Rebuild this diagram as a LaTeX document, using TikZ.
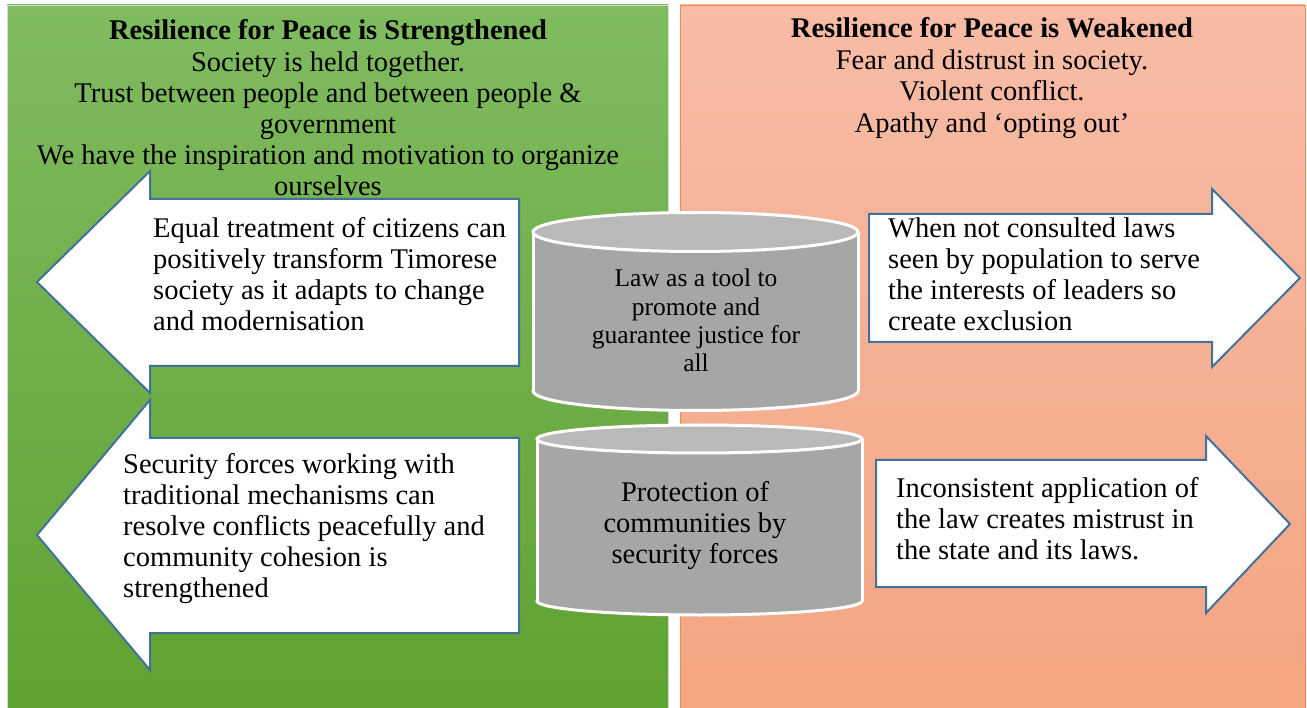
\documentclass[tikz,border=0pt]{standalone}
\usepackage{fontspec}
\setmainfont{Liberation Serif}
\pgfdeclarelayer{bg}
\pgfsetlayers{bg,main}
\definecolor{greentop}{HTML}{80BB60}
\definecolor{greenbot}{HTML}{60A232}
\definecolor{pinktop}{HTML}{F7BCA6}
\definecolor{pinkbot}{HTML}{F4A581}
\definecolor{pinkline}{HTML}{F08A4B}
\definecolor{arrowblue}{HTML}{41719C}
\definecolor{drumbody}{HTML}{A6A6A6}
\definecolor{drumtop}{HTML}{B9B9B9}
\tikzset{
        say/.style={inner sep=0pt, align=left, font=\fontsize{28.5}{31}\selectfont},
        bigarrow/.style={draw=arrowblue, line width=2pt, fill=white, line join=miter},
        drumline/.style={draw=white, line width=3pt}
}

\begin{document}
\begin{tikzpicture}[x=1pt, y=-1pt]
        \useasboundingbox (0,0) rectangle (1307,708);
        \node (h0) [say, align=center, font=\fontsize{28.5}{31.2}\selectfont] at (328, 108) {\textbf{Resilience for Peace is Strengthened}\\Society is held together.\\Trust between people and between people \&\\government\\We have the inspiration and motivation to organize\\ourselves};
        \node (h1) [say, align=center, font=\fontsize{28.5}{31.7}\selectfont] at (992, 78) {\textbf{Resilience for Peace is Weakened}\\Fear and distrust in society.\\Violent conflict.\\Apathy and ‘opting out’};
        \node (a1) [say, anchor=west] at (153, 274.5) {Equal treatment of citizens can\\positively transform Timorese\\society as it adapts to change\\and modernisation};
        \node (a2) [say, anchor=west, font=\fontsize{28.5}{30.8}\selectfont] at (123, 528.5) {Security forces working with\\traditional mechanisms can\\resolve conflicts peacefully and\\community cohesion is\\strengthened};
        \node (a3) [say, anchor=west] at (888, 274.5) {When not consulted laws\\seen by population to serve\\the interests of leaders so\\create exclusion};
        \node (a4) [say, anchor=west] at (896, 519) {Inconsistent application of\\the law creates mistrust in\\the state and its laws.};
        \node (c1) [say, align=center, font=\fontsize{25.5}{28.3}\selectfont] at (696, 320.5) {Law as a tool to\\promote and\\guarantee justice for\\all};
        \node (c2) [say, align=center] at (695, 526) {Protection of\\communities by\\security forces};
        \begin{pgfonlayer}{bg}
                % two halves
                \shade [top color=greentop, bottom color=greenbot, draw=gray!30] (7,5) rectangle (668,708);
                \shade [top color=pinktop, bottom color=pinkbot, draw=pinkline] (680,5) rectangle (1305,708);
                % arrows
                \draw [bigarrow] (519,199) -- (150,199) -- (150,171) -- (37,282) -- (150,393) -- (150,366) -- (519,366) -- cycle;
                \draw [bigarrow] (519,438) -- (150,438) -- (150,400) -- (37,535) -- (150,670) -- (150,633) -- (519,633) -- cycle;
                \draw [bigarrow] (869,214) -- (1212,214) -- (1212,189) -- (1300,278) -- (1212,367) -- (1212,342) -- (869,342) -- cycle;
                \draw [bigarrow] (876,460) -- (1206,460) -- (1206,436) -- (1290,524) -- (1206,613) -- (1206,587) -- (876,587) -- cycle;
                % drums
                \foreach \cx/\rx/\ya/\yb/\ry in {695.5/162.5/232/391/19.5, 699.5/162.5/439/601/14} {
                        \fill [drumbody, drumline] (\cx,\yb) ellipse ({\rx} and {\ry});
                        \fill [drumbody] (\cx-\rx,\ya) rectangle (\cx+\rx,\yb);
                        \draw [drumline] (\cx-\rx,\ya) -- (\cx-\rx,\yb);
                        \draw [drumline] (\cx+\rx,\ya) -- (\cx+\rx,\yb);
                        \filldraw [fill=drumtop, drumline] (\cx,\ya) ellipse ({\rx} and {\ry});
                }
        \end{pgfonlayer}
\end{tikzpicture}
\end{document}
